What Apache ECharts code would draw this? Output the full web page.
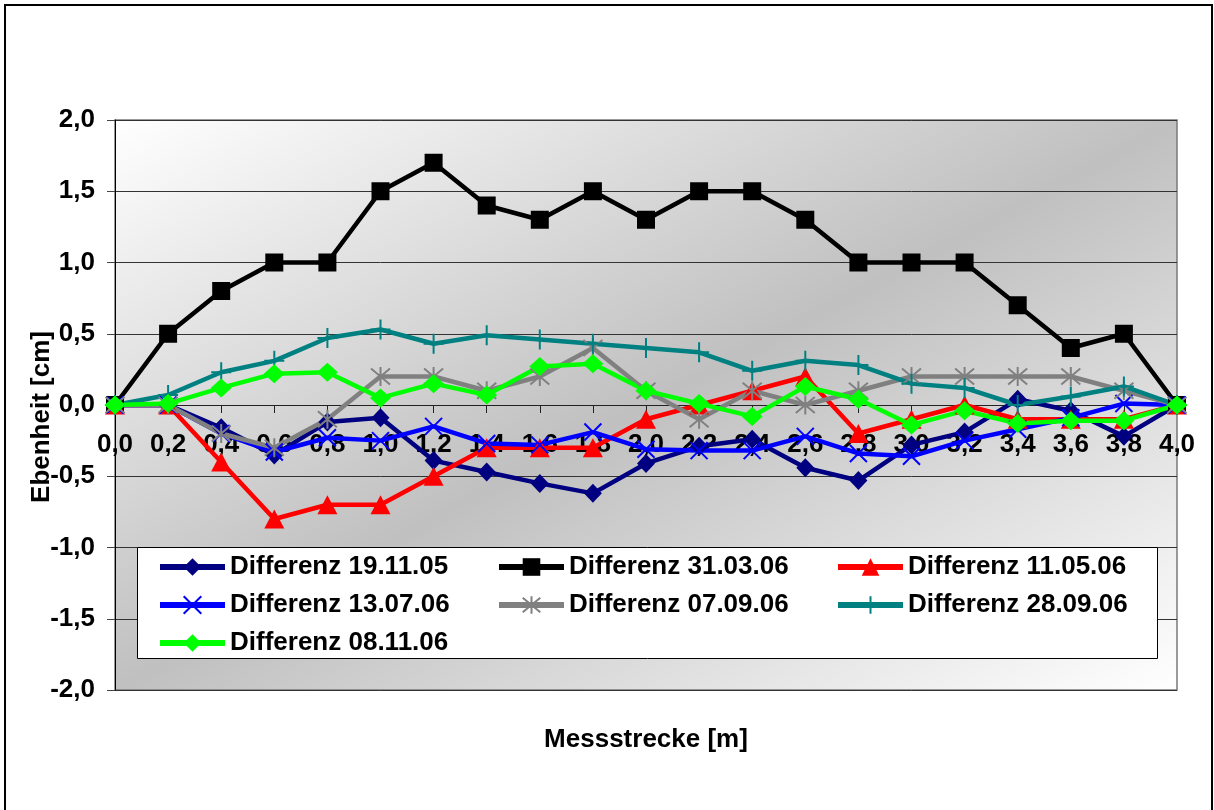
<!DOCTYPE html>
<html>
<head>
<meta charset="utf-8">
<title>Ebenheit – Differenzen</title>
<script src="https://cdn.jsdelivr.net/npm/echarts@6/dist/echarts.min.js"></script>
<style>
  html, body { margin: 0; padding: 0; background: #ffffff; }
  #chart { width: 1214px; height: 810px; }
</style>
</head>
<body>
<div id="chart"></div>
<script>
// Messpunkte entlang der Strecke [m]
const positions = [0.0, 0.2, 0.4, 0.6, 0.8, 1.0, 1.2, 1.4, 1.6, 1.8, 2.0,
                   2.2, 2.4, 2.6, 2.8, 3.0, 3.2, 3.4, 3.6, 3.8, 4.0];

// Ebenheitsdifferenzen [cm] je Messdatum
const diff191105 = [0, 0, -0.16, -0.35, -0.12, -0.09, -0.39, -0.47, -0.55, -0.62, -0.41,
                    -0.29, -0.24, -0.44, -0.53, -0.28, -0.19, 0.04, -0.04, -0.22, 0];
const diff310306 = [0, 0.5, 0.8, 1.0, 1.0, 1.5, 1.7, 1.4, 1.3, 1.5, 1.3,
                    1.5, 1.5, 1.3, 1.0, 1.0, 1.0, 0.7, 0.4, 0.5, 0];
const diff110506 = [0, 0, -0.4, -0.8, -0.7, -0.7, -0.5, -0.3, -0.3, -0.3, -0.1,
                    0.0, 0.1, 0.2, -0.2, -0.1, 0.0, -0.1, -0.1, -0.1, 0];
const diff130706 = [0, 0, -0.2, -0.33, -0.23, -0.25, -0.15, -0.27, -0.28, -0.19, -0.31,
                    -0.32, -0.32, -0.22, -0.34, -0.36, -0.25, -0.17, -0.09, 0.01, 0];
const diff070906 = [0, 0, -0.2, -0.3, -0.1, 0.2, 0.2, 0.1, 0.2, 0.4, 0.1,
                    -0.1, 0.1, 0.0, 0.1, 0.2, 0.2, 0.2, 0.2, 0.1, 0];
const diff280906 = [0, 0.07, 0.23, 0.31, 0.47, 0.53, 0.43, 0.49, 0.46, 0.43, 0.40,
                    0.37, 0.24, 0.31, 0.28, 0.15, 0.12, 0.0, 0.06, 0.13, 0];
const diff081106 = [0, 0.01, 0.12, 0.22, 0.23, 0.05, 0.15, 0.07, 0.27, 0.29, 0.10,
                    0.01, -0.08, 0.13, 0.04, -0.14, -0.04, -0.13, -0.11, -0.11, 0];

const seriesNames = ['Differenz 19.11.05', 'Differenz 31.03.06', 'Differenz 11.05.06',
                     'Differenz 13.07.06', 'Differenz 07.09.06', 'Differenz 28.09.06',
                     'Differenz 08.11.06'];

const FONT = "'Liberation Sans', Arial, sans-serif";
const comma = v => v.toFixed(1).replace('.', ',');

// Plot frame (pixels)
const GRID = { left: 115, right: 37, top: 120, bottom: 120 };
const PLOT_H = 810 - GRID.top - GRID.bottom;

// Marker shapes: cross, asterisk and plus are stroked paths
const SYM_X = 'path://M0,0L10,10M10,0L0,10';
const SYM_STAR = 'path://M0,0L10,10M10,0L0,10M5,-1L5,11';
const SYM_PLUS = 'path://M5,0L5,10M0,5L10,5';

const styles = [
  { data: diff191105, color: '#000080', symbol: 'diamond', size: [18, 19], stroke: 0 },
  { data: diff310306, color: '#000000', symbol: 'rect', size: 18, stroke: 0 },
  { data: diff110506, color: '#FF0000', symbol: 'triangle', size: [20, 19], stroke: 0 },
  { data: diff130706, color: '#0000FF', symbol: SYM_X, size: 17, stroke: 2 },
  { data: diff070906, color: '#808080', symbol: SYM_STAR, size: 19, stroke: 2 },
  { data: diff280906, color: '#008080', symbol: SYM_PLUS, size: 20, stroke: 2 },
  { data: diff081106, color: '#00FF00', symbol: 'diamond', size: [21, 19], stroke: 0 }
];

const series = styles.map((s, i) => ({
  name: seriesNames[i],
  type: 'line',
  data: s.data.map((v, k) => [positions[k], v]),
  symbol: s.symbol,
  symbolSize: s.size,
  showAllSymbol: true,
  lineStyle: { color: s.color, width: 4.5 },
  itemStyle: { color: s.color, borderColor: s.color, borderWidth: s.stroke, opacity: 1 },
  emphasis: { disabled: true },
  animation: false
}));

const chart = echarts.init(document.getElementById('chart'), null, { renderer: 'canvas' });

chart.setOption({
  animation: false,
  textStyle: { fontFamily: FONT },
  grid: {
    left: GRID.left, right: GRID.right, top: GRID.top, bottom: GRID.bottom,
    containLabel: false,
    outerBoundsMode: 'none',
    show: true,
    borderColor: '#7a7a7a',
    borderWidth: 1.5,
    // diagonal shading: light corners top-left / bottom-right, grey band from bottom-left to top-right
    backgroundColor: {
      type: 'linear', x: 0.2767, y: -0.2767, x2: 0.7233, y2: 1.2767,
      colorStops: [
        { offset: 0, color: '#ffffff' },
        { offset: 0.5, color: '#c0c0c0' },
        { offset: 1, color: '#ffffff' }
      ]
    }
  },
  xAxis: {
    type: 'value',
    min: 0, max: 4, interval: 0.2,
    position: 'bottom',
    // the distance axis runs through the value 0 of the y-axis (middle of the plot)
    offset: -PLOT_H / 2,
    name: 'Messstrecke [m]',
    nameLocation: 'middle',
    nameGap: 322,
    nameMoveOverlap: false,
    nameTextStyle: { fontFamily: FONT, fontWeight: 'bold', fontSize: 26, color: '#000' },
    axisLine: { onZero: false, lineStyle: { color: '#222', width: 1 } },
    axisTick: { show: true, inside: false, length: 8, lineStyle: { color: '#222' } },
    axisLabel: {
      margin: 27, fontFamily: FONT, fontWeight: 'bold', fontSize: 26, color: '#000',
      formatter: comma
    },
    splitLine: { show: false }
  },
  yAxis: {
    type: 'value',
    min: -2, max: 2, interval: 0.5,
    name: 'Ebenheit [cm]',
    nameLocation: 'middle',
    nameGap: 60,
    nameRotate: 90,
    nameMoveOverlap: false,
    nameTextStyle: {
      fontFamily: FONT, fontWeight: 'bold', fontSize: 26, color: '#000',
      padding: [0, 24, 0, 0]
    },
    axisLine: { show: true, onZero: false, lineStyle: { color: '#000', width: 1 } },
    axisTick: { show: true, inside: false, length: 8, lineStyle: { color: '#444' } },
    axisLabel: {
      margin: 20, fontFamily: FONT, fontWeight: 'bold', fontSize: 26, color: '#000',
      formatter: comma
    },
    splitLine: { show: true, lineStyle: { color: '#333', width: 1 } }
  },
  legend: {
    left: 157, top: 552,
    width: 1030,
    padding: 0,
    itemWidth: 65, itemHeight: 22,
    itemGap: 8,
    z: 5,
    selectedMode: false,
    lineStyle: { width: 6 },
    textStyle: {
      fontFamily: FONT, fontWeight: 'bold', fontSize: 26, color: '#000',
      width: 258, lineHeight: 30
    },
    data: seriesNames
  },
  graphic: [
    {
      type: 'rect', z: 3, silent: true,
      shape: { x: 137.5, y: 547.5, width: 1020, height: 111 },
      style: { fill: '#ffffff', stroke: '#000000', lineWidth: 1 }
    },
    {
      type: 'rect', z: 0, silent: true,
      shape: { x: 5, y: 5, width: 1207, height: 812 },
      style: { fill: null, stroke: '#000000', lineWidth: 2 }
    }
  ],
  series: series
});
</script>
</body>
</html>
